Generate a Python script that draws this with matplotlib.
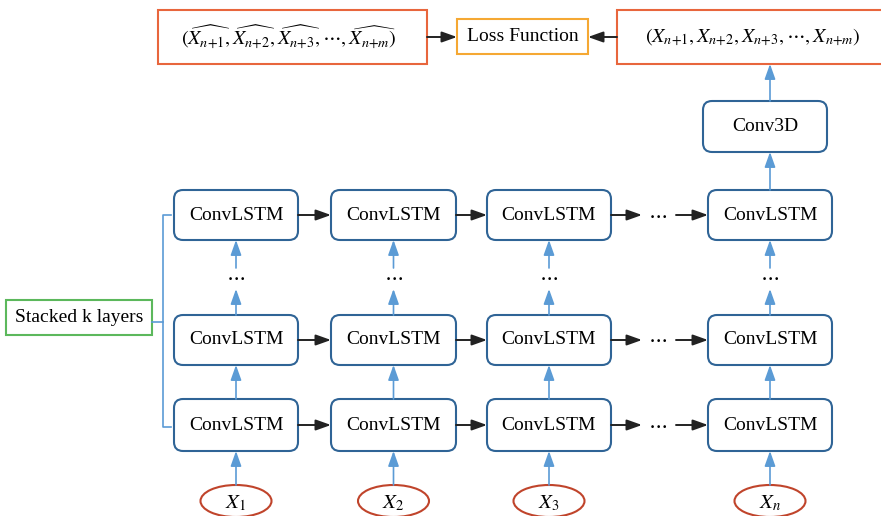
import matplotlib
matplotlib.use('Agg')
import matplotlib.pyplot as plt
from matplotlib.patches import FancyBboxPatch, Rectangle, Ellipse

# labels of the diagram
cell_label = 'ConvLSTM'
input_labels = [r'$X_1$', r'$X_2$', r'$X_3$', r'$X_n$']
pred_label = (r'$(\widehat{X_{n{+}1}},\widehat{X_{n{+}2}},\widehat{X_{n{+}3}},'
              r'\cdots,\widehat{X_{n{+}m}})$')
true_label = r'$(X_{n{+}1},X_{n{+}2},X_{n{+}3},\cdots,X_{n{+}m})$'
loss_label = 'Loss Function'
head_label = 'Conv3D'
stack_label = 'Stacked k layers'

plt.rcParams['font.family'] = ['Liberation Serif', 'DejaVu Serif']
plt.rcParams['mathtext.fontset'] = 'stix'

BLUE_EDGE = '#2f6496'
BLUE_ARR = '#5b9bd5'
ORANGE = '#e8663d'
YELLOW = '#f5a833'
RED = '#c0442b'
GREEN = '#5cb85c'
FS = 14

fig = plt.figure(figsize=(8.81, 5.16), dpi=100)
ax = fig.add_axes([0, 0, 1, 1])
ax.set_xlim(0, 881)
ax.set_ylim(516, 0)
ax.axis('off')


def rbox(x0, y0, x1, y1, text, ec=BLUE_EDGE):
    p = FancyBboxPatch((x0, y0), x1 - x0, y1 - y0,
                       boxstyle='round,pad=0,rounding_size=9',
                       fc='white', ec=ec, lw=1.5)
    ax.add_patch(p)
    ax.text((x0 + x1) / 2, (y0 + y1) / 2, text, ha='center', va='center', fontsize=FS)


def sbox(x0, y0, x1, y1, text, ec, fs=FS, tx=None):
    ax.add_patch(Rectangle((x0, y0), x1 - x0, y1 - y0, fc='white', ec=ec, lw=1.5))
    if tx is None:
        tx = (x0 + x1) / 2
    ax.text(tx, (y0 + y1) / 2, text, ha='center', va='center', fontsize=fs)


def arrow(x0, y0, x1, y1, color='#222222', lw=1.4):
    ax.annotate('', xy=(x1, y1), xytext=(x0, y0),
                arrowprops=dict(arrowstyle='-|>,head_length=0.7,head_width=0.25',
                                color=color, lw=lw,
                                shrinkA=0, shrinkB=0, mutation_scale=13))


cols = [(174, 298), (331, 456), (487, 611), (708, 832)]
rows = [(190, 240), (315, 365), (399, 451)]

for ci, (x0, x1) in enumerate(cols):
    xc = (x0 + x1) / 2
    for (y0, y1) in rows:
        rbox(x0, y0, x1, y1, cell_label)
    # vertical links
    arrow(xc, rows[2][0], xc, rows[1][1], color=BLUE_ARR, lw=1.2)
    arrow(xc, rows[1][0], xc, 289, color=BLUE_ARR, lw=1.2)
    ax.text(xc, 277, r'$\cdots$', ha='center', va='center', fontsize=FS + 1)
    arrow(xc, 268, xc, rows[0][1], color=BLUE_ARR, lw=1.2)
    # input ellipse
    ax.add_patch(Ellipse((xc, 501), 71, 32, fc='white', ec=RED, lw=1.5))
    ax.text(xc, 503, input_labels[ci], ha='center', va='center', fontsize=FS + 1)
    arrow(xc, 485, xc, rows[2][1], color=BLUE_ARR, lw=1.2)

# horizontal links
for (y0, y1) in rows:
    yc = (y0 + y1) / 2
    arrow(cols[0][1], yc, cols[1][0], yc)
    arrow(cols[1][1], yc, cols[2][0], yc)
    arrow(cols[2][1], yc, 642, yc)
    ax.text(658, yc, r'$\cdots$', ha='center', va='center', fontsize=FS + 1)
    arrow(676, yc, cols[3][0], yc)

# head of network
hx = (cols[3][0] + cols[3][1]) / 2
rbox(703, 101, 827, 152, head_label)
arrow(hx, rows[0][0], hx, 152, color=BLUE_ARR, lw=1.2)
sbox(617, 10, 890, 64, true_label, ORANGE, fs=14.5, tx=753)
arrow(hx, 101, hx, 64, color=BLUE_ARR, lw=1.2)

sbox(158, 10, 427, 64, pred_label, ORANGE, fs=14.5, tx=289)
sbox(457, 19, 588, 54, loss_label, YELLOW)
arrow(427, 37, 457, 37)
arrow(617, 37, 588, 37)

# stacked layers bracket
sbox(6, 300, 152, 335, stack_label, GREEN)
ax.plot([171, 163, 163, 171], [215, 215, 427, 427], color=BLUE_ARR, lw=1.2)
ax.plot([152, 163], [322, 322], color=BLUE_ARR, lw=1.2)

fig.savefig('out.png', dpi=100)
